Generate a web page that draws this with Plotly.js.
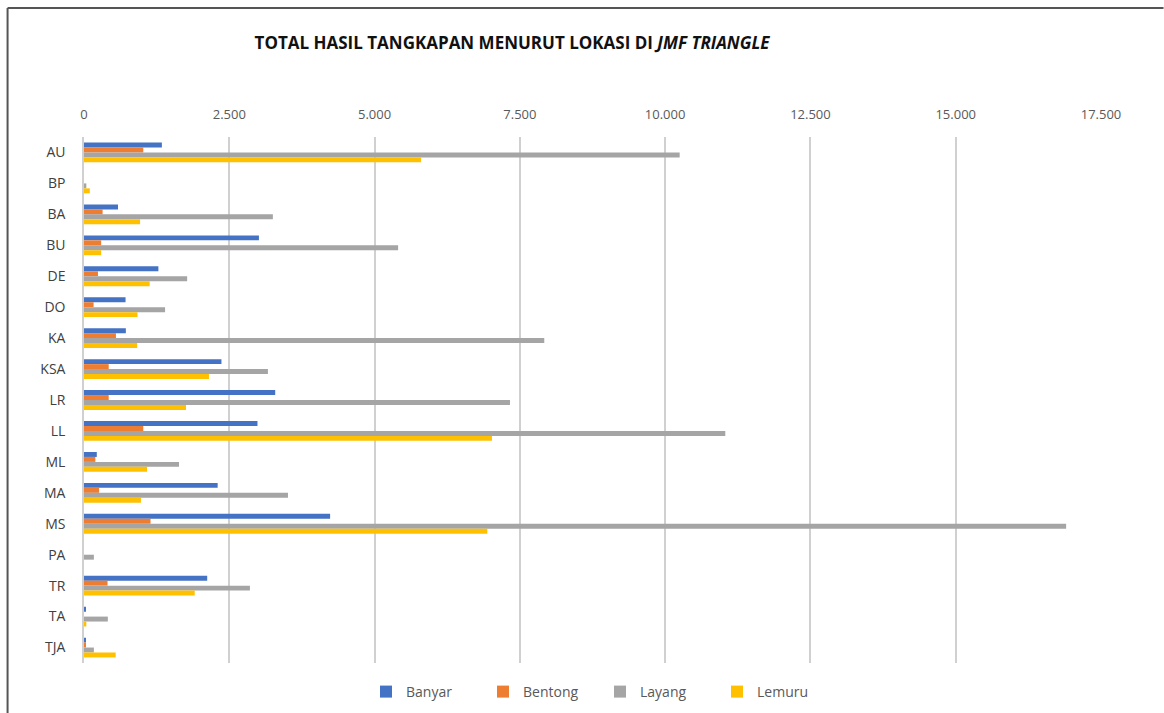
<!DOCTYPE html>
<html>
<head>
<meta charset="utf-8">
<script src="https://cdn.plot.ly/plotly-3.0.1.min.js"></script>
<style>
html,body{margin:0;padding:0;background:#fff;}
#chart{width:1164px;height:713px;}
</style>
</head>
<body>
<div id="chart"></div>
<script>
const categories = ["AU","BP","BA","BU","DE","DO","KA","KSA","LR","LL","ML","MA","MS","PA","TR","TA","TJA"];
const banyar  = [1340, 0,   585, 3010, 1280, 715, 720, 2365, 3290, 2985, 220, 2300, 4235, 0,   2120, 25, 30];
const bentong = [1020, 0,   320, 295,  240,  165, 550, 425,  425,  1020, 195, 260,  1145, 0,   405,  0,  30];
const layang  = [10250, 40, 3250, 5405, 1775, 1395, 7920, 3165, 7330, 11035, 1635, 3510, 16900, 170, 2855, 410, 170];
const lemuru  = [5800, 100, 965, 295,  1130, 920, 915, 2150, 1755, 7020, 1085, 980, 6940, 0,   1905, 40, 545];
const seriesNames = ["Banyar","Bentong","Layang","Lemuru"];
const xTicks = [0,2500,5000,7500,10000,12500,15000,17500];

const colors = ["#4472C4","#ED7D31","#A5A5A5","#FFC000"];
const values = [banyar, bentong, layang, lemuru];

const traces = values.map((v,i)=>({
  type:"bar", orientation:"h", name:seriesNames[i],
  y:categories, x:v, marker:{color:colors[i]},
  hoverinfo:"x+y+name"
}));

const W=1164,H=713, L=83.5, R=1101.4, T=137, B=663;
const px = x => (x-L)/(R-L);
const py = y => (B-y)/(B-T);

const layout = {
  width:W, height:H,
  margin:{l:L, r:W-R, t:T, b:H-B, pad:0},
  paper_bgcolor:"#fff", plot_bgcolor:"#fff",
  separators:",.",
  barmode:"group", bargap:0.36, bargroupgap:0,
  font:{family:"Open Sans, Lato, sans-serif", color:"#595959", size:13},
  title:{
    text:"<b>TOTAL HASIL TANGKAPAN MENURUT LOKASI DI <i>JMF TRIANGLE</i></b>",
    font:{family:"Open Sans, Lato, sans-serif", size:17, color:"#111"},
    x:512/W, xref:"container", xanchor:"center",
    y:1-43/H, yref:"container", yanchor:"middle"
  },
  xaxis:{
    side:"top", range:[0,17500], tickvals:xTicks, tickformat:",d",
    showgrid:true, gridcolor:"#d0d0d0", gridwidth:1.5,
    zeroline:false, showline:false,
    ticks:"outside", ticklen:12, tickcolor:"rgba(0,0,0,0)",
    tickfont:{size:13, color:"#595959"}, fixedrange:true
  },
  yaxis:{
    type:"category", autorange:"reversed",
    showgrid:false, zeroline:false,
    showline:true, linecolor:"#d0d0d0", linewidth:1.5,
    ticks:"outside", ticklen:14, tickcolor:"rgba(0,0,0,0)",
    tickfont:{size:14, color:"#404040"}, fixedrange:true
  },
  legend:{
    orientation:"h", x:600/W, xref:"container", xanchor:"center",
    y:1-692/H, yref:"container", yanchor:"middle",
    font:{size:14, color:"#595959"}, itemwidth:30, traceorder:"normal",
    entrywidth:72, entrywidthmode:"pixels"
  },
  shapes:[
    {type:"line", xref:"paper", yref:"paper", x0:px(7), x1:px(7), y0:py(8), y1:py(713), line:{color:"#555", width:2}},
    {type:"line", xref:"paper", yref:"paper", x0:px(7), x1:px(1164), y0:py(8), y1:py(8), line:{color:"#555", width:2}}
  ],
  showlegend:true
};

Plotly.newPlot("chart", traces, layout, {displayModeBar:false});
</script>
</body>
</html>
